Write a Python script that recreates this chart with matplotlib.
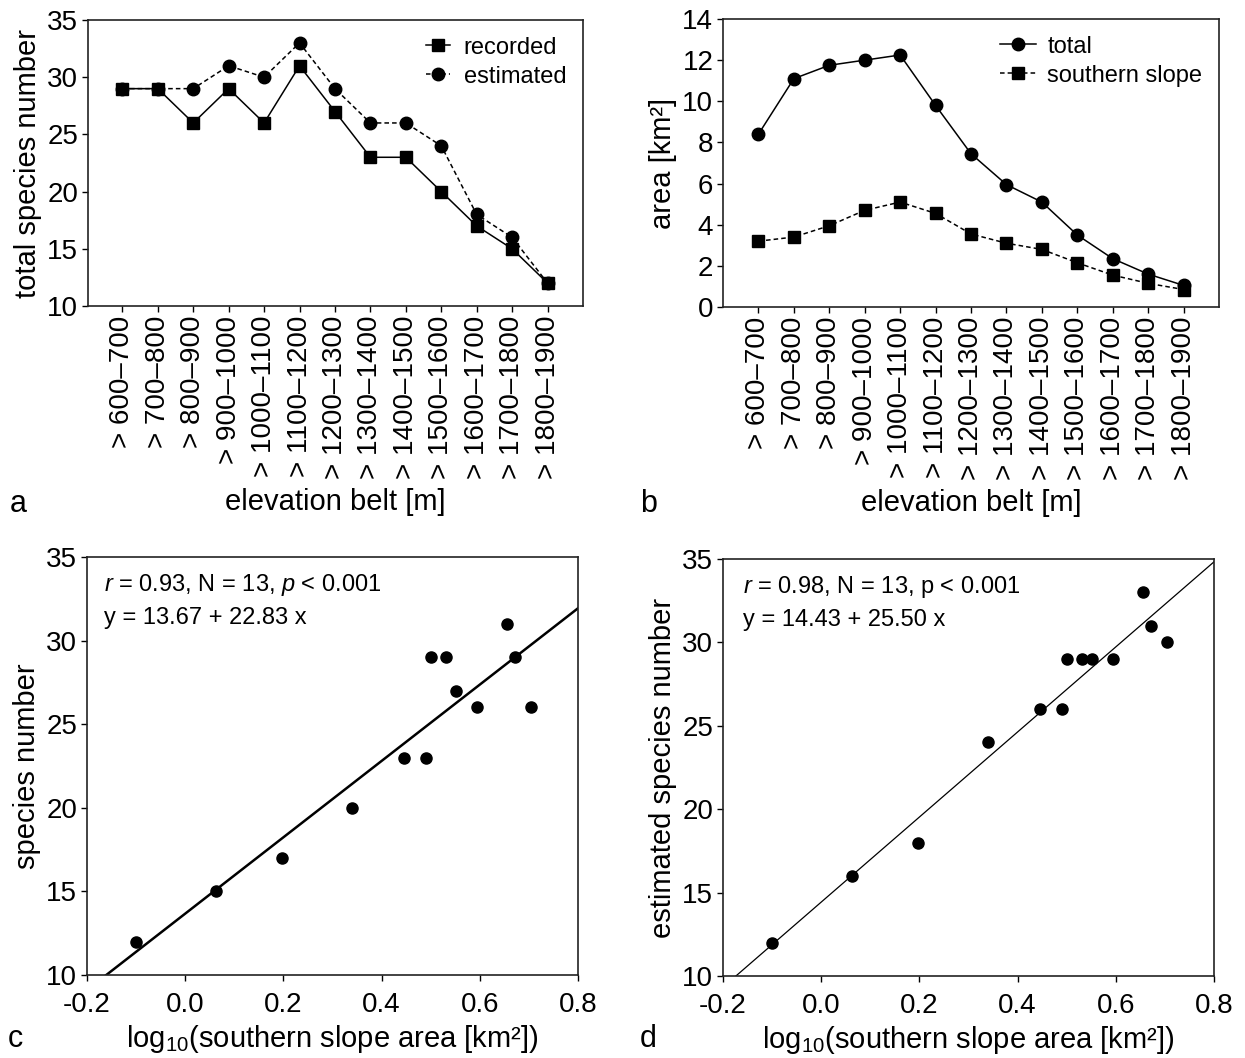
import numpy as np
import matplotlib
matplotlib.use("Agg")
import matplotlib.pyplot as plt

plt.rcParams["font.family"] = ["Liberation Sans", "DejaVu Sans"]
plt.rcParams["mathtext.fontset"] = "custom"
plt.rcParams["mathtext.rm"] = "Liberation Sans"
plt.rcParams["mathtext.it"] = "Liberation Sans:italic"
plt.rcParams["mathtext.bf"] = "Liberation Sans:bold"
plt.rcParams["axes.unicode_minus"] = False

# elevation belts
belts = ["> 600–700", "> 700–800", "> 800–900", "> 900–1000", "> 1000–1100",
         "> 1100–1200", "> 1200–1300", "> 1300–1400", "> 1400–1500",
         "> 1500–1600", "> 1600–1700", "> 1700–1800", "> 1800–1900"]

# panel a
recorded = [29, 29, 26, 29, 26, 31, 27, 23, 23, 20, 17, 15, 12]
estimated = [29, 29, 29, 31, 30, 33, 29, 26, 26, 24, 18, 16, 12]

# panel b (km2)
area_total = [8.4, 11.1, 11.75, 12.0, 12.25, 9.8, 7.45, 5.95, 5.1, 3.5, 2.35, 1.6, 1.05]
area_south = [3.2, 3.4, 3.95, 4.7, 5.1, 4.55, 3.55, 3.1, 2.8, 2.15, 1.55, 1.15, 0.85]

# panels c, d: log10 southern slope area
log_south = [0.50, 0.532, 0.594, 0.671, 0.704, 0.656, 0.551, 0.49, 0.445,
             0.34, 0.198, 0.063, -0.10]

fit_c = (13.67, 22.83)
fit_d = (14.43, 25.50)

W, H = 1245, 1058
fig = plt.figure(figsize=(W / 100, H / 100), dpi=100)

TICK = 20
LAB = 21


def box(ax, xpad=3):
    for s in ax.spines.values():
        s.set_linewidth(1.2)
        s.set_color("#222222")
    ax.tick_params(direction="out", length=4, width=1, labelsize=TICK, pad=3)
    ax.tick_params(axis="x", pad=xpad)


def ax_px(l, t, r, b):
    return fig.add_axes([l / W, 1 - b / H, (r - l) / W, (b - t) / H])


x = np.arange(len(belts))

# ---- a
ax = ax_px(88, 20, 583, 306)
ax.plot(x, recorded, "-", color="k", lw=1.1, marker="s", ms=9, label="recorded")
ax.plot(x, estimated, color="k", lw=1.1, ls=(0, (3, 2)), marker="o", ms=9,
        label="estimated")
ax.set_xlim(-0.97, 13.0)
ax.set_ylim(10, 35)
ax.set_yticks([10, 15, 20, 25, 30, 35])
ax.set_xticks(x)
ax.set_xticklabels(belts, rotation=90)
box(ax)
ax.set_ylabel("total species number", fontsize=LAB, labelpad=4)
ax.set_xlabel("elevation belt [m]", fontsize=LAB, labelpad=6)
ax.legend(loc="upper right", frameon=False, fontsize=17, handlelength=1.0,
          handletextpad=0.6, labelspacing=0.3, borderaxespad=0.3)

# ---- b
ax = ax_px(723, 19, 1219, 307)
ax.plot(x, area_total, "-", color="k", lw=1.1, marker="o", ms=9, label="total")
ax.plot(x, area_south, color="k", lw=1.1, ls=(0, (3, 2)), marker="s", ms=9,
        label="southern slope")
ax.set_xlim(-1.0, 13.0)
ax.set_ylim(0, 14)
ax.set_yticks(range(0, 15, 2))
ax.set_xticks(x)
ax.set_xticklabels(belts, rotation=90)
box(ax)
ax.set_ylabel("area [km²]", fontsize=LAB, labelpad=4)
ax.set_xlabel("elevation belt [m]", fontsize=LAB, labelpad=6)
ax.legend(loc="upper right", frameon=False, fontsize=17, handlelength=1.5,
          handletextpad=0.5, labelspacing=0.3, borderaxespad=0.3)

xl = "log$_{10}$(southern slope area [km²])"
xs = np.linspace(-0.2, 0.8, 50)
xt = [-0.2, 0.0, 0.2, 0.4, 0.6, 0.8]

# ---- c
ax = ax_px(87, 557, 578, 975)
ax.plot(log_south, recorded, "o", color="k", ms=8)
ax.plot(xs, fit_c[0] + fit_c[1] * xs, "-", color="k", lw=1.8)
ax.set_xlim(-0.2, 0.8)
ax.set_ylim(10, 35)
ax.set_xticks(xt)
ax.set_xticklabels(["%.1f" % v for v in xt])
ax.set_yticks([10, 15, 20, 25, 30, 35])
box(ax, xpad=8)
ax.set_ylabel("species number", fontsize=LAB, labelpad=4)
ax.set_xlabel(xl, fontsize=LAB, labelpad=4)
ax.text(0.035, 0.965, "$\\mathit{r}$ = 0.93, N = 13, $\\mathit{p}$ < 0.001",
        transform=ax.transAxes, fontsize=17, va="top", ha="left")
ax.text(0.035, 0.88, "y = 13.67 + 22.83 x", transform=ax.transAxes,
        fontsize=17, va="top", ha="left")

# ---- d
ax = ax_px(723, 559, 1214, 976)
ax.plot(log_south, estimated, "o", color="k", ms=8)
ax.plot(xs, fit_d[0] + fit_d[1] * xs, "-", color="k", lw=0.9)
ax.set_xlim(-0.2, 0.8)
ax.set_ylim(10, 35)
ax.set_xticks(xt)
ax.set_xticklabels(["%.1f" % v for v in xt])
ax.set_yticks([10, 15, 20, 25, 30, 35])
box(ax, xpad=8)
ax.set_ylabel("estimated species number", fontsize=LAB, labelpad=4)
ax.set_xlabel(xl, fontsize=LAB, labelpad=4)
ax.text(0.04, 0.965, "$\\mathit{r}$ = 0.98, N = 13, p < 0.001",
        transform=ax.transAxes, fontsize=17, va="top", ha="left")
ax.text(0.04, 0.88, "y = 14.43 + 25.50 x", transform=ax.transAxes,
        fontsize=17, va="top", ha="left")

# panel letters
for lab, px, py in [("a", 10, 512), ("b", 640, 512), ("c", 8, 1047), ("d", 640, 1047)]:
    fig.text(px / W, 1 - py / H, lab, fontsize=22, ha="left", va="baseline")

fig.savefig("out.png", dpi=100)
